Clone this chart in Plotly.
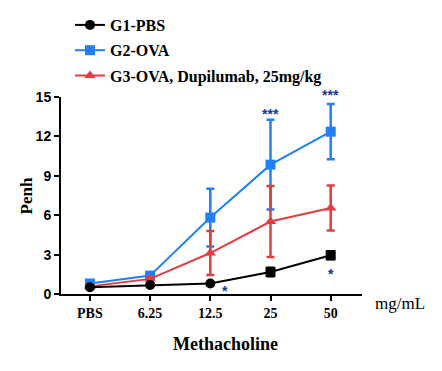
import plotly.graph_objects as go

categories = ["PBS", "6.25", "12.5", "25", "50"]
g1_mean = [0.52, 0.68, 0.80, 1.68, 2.95]
g1_err = [0.08, 0.08, 0.10, 0.32, 0.30]
g2_mean = [0.80, 1.40, 5.82, 9.85, 12.36]
g2_err = [0.15, 0.20, 2.20, 3.42, 2.10]
g3_mean = [0.58, 1.15, 3.12, 5.52, 6.55]
g3_err = [0.10, 0.15, 1.68, 2.70, 1.72]
names = ["G1-PBS", "G2-OVA", "G3-OVA, Dupilumab, 25mg/kg"]
star_x = [2.25, 3.0, 4.0, 4.0]
star_y = [0.45, 13.95, 15.4, 1.75]
star_text = ["*", "***", "***", "*"]

xs = list(range(len(categories)))
Y_MAX = 15
BLUE = "#2080f7"
RED = "#e23c40"
BLACK = "#000000"
SERIF = "Liberation Serif, Times New Roman, serif"
SANS = "Liberation Sans, Arial, sans-serif"

fig = go.Figure()

def add(mean, err, name, color, symbol, rank):
    fig.add_trace(go.Scatter(
        x=xs, y=mean, name=name, mode="lines+markers",
        line=dict(color=color, width=2),
        marker=dict(color=color, size=10, symbol=symbol),
        error_y=dict(type="data", array=err, color=color, thickness=2.5, width=4),
        legendgroup=name, legendrank=rank, cliponaxis=False,
    ))

add(g2_mean, g2_err, names[1], BLUE, "square", 2)
add(g3_mean, g3_err, names[2], RED, "triangle-up", 3)
add(g1_mean, g1_err, names[0], BLACK, ["circle", "circle", "circle", "square", "square"], 1)

for sx, sy, st in zip(star_x, star_y, star_text):
    fig.add_annotation(x=sx, xref="x", y=sy / Y_MAX, yref="paper", text=st,
                       showarrow=False, yanchor="middle", yshift=-3,
                       font=dict(family=SANS, size=14, color="#1a3590", weight="bold"))

fig.add_annotation(xref="paper", yref="paper", x=1.037, y=-0.05, xanchor="left",
                   yanchor="middle", text="mg/mL", showarrow=False,
                   font=dict(family=SERIF, size=17, color="black"))
fig.add_annotation(xref="paper", yref="paper", x=0.548, y=-0.254, xanchor="center",
                   yanchor="middle", text="<b>Methacholine</b>", showarrow=False,
                   font=dict(family=SERIF, size=18, color="black"))
fig.add_annotation(xref="paper", yref="paper", x=-0.113, y=0.5, xanchor="center",
                   yanchor="middle", text="<b>Penh</b>", showarrow=False, textangle=-90,
                   font=dict(family=SERIF, size=17, color="black"))

fig.update_layout(
    width=442, height=371,
    margin=dict(l=53, r=88, t=89, b=85, autoexpand=False),
    plot_bgcolor="white", paper_bgcolor="white",
    showlegend=True,
    legend=dict(xref="container", yref="container", x=62 / 442, y=1.0,
                xanchor="left", yanchor="top",
                font=dict(family=SERIF, size=16, color="black", weight="bold"),
                tracegroupgap=1.5, bgcolor="rgba(0,0,0,0)", itemwidth=30),
    xaxis=dict(
        range=[-0.48, 4.52], tickvals=xs, ticktext=categories,
        showline=True, linecolor="black", linewidth=2,
        ticks="outside", ticklen=5, tickwidth=2, tickcolor="black",
        showgrid=False, zeroline=False,
        tickfont=dict(family=SERIF, size=14, color="black", weight="bold"),
    ),
    yaxis=dict(
        range=[0, Y_MAX], tickvals=[0, 3, 6, 9, 12, 15],
        showline=True, linecolor="black", linewidth=2,
        ticks="outside", ticklen=5, tickwidth=2, tickcolor="black",
        showgrid=False, zeroline=False,
        tickfont=dict(family=SANS, size=14, color="black", weight="bold"),
    ),
)

fig.write_html("out.html")
